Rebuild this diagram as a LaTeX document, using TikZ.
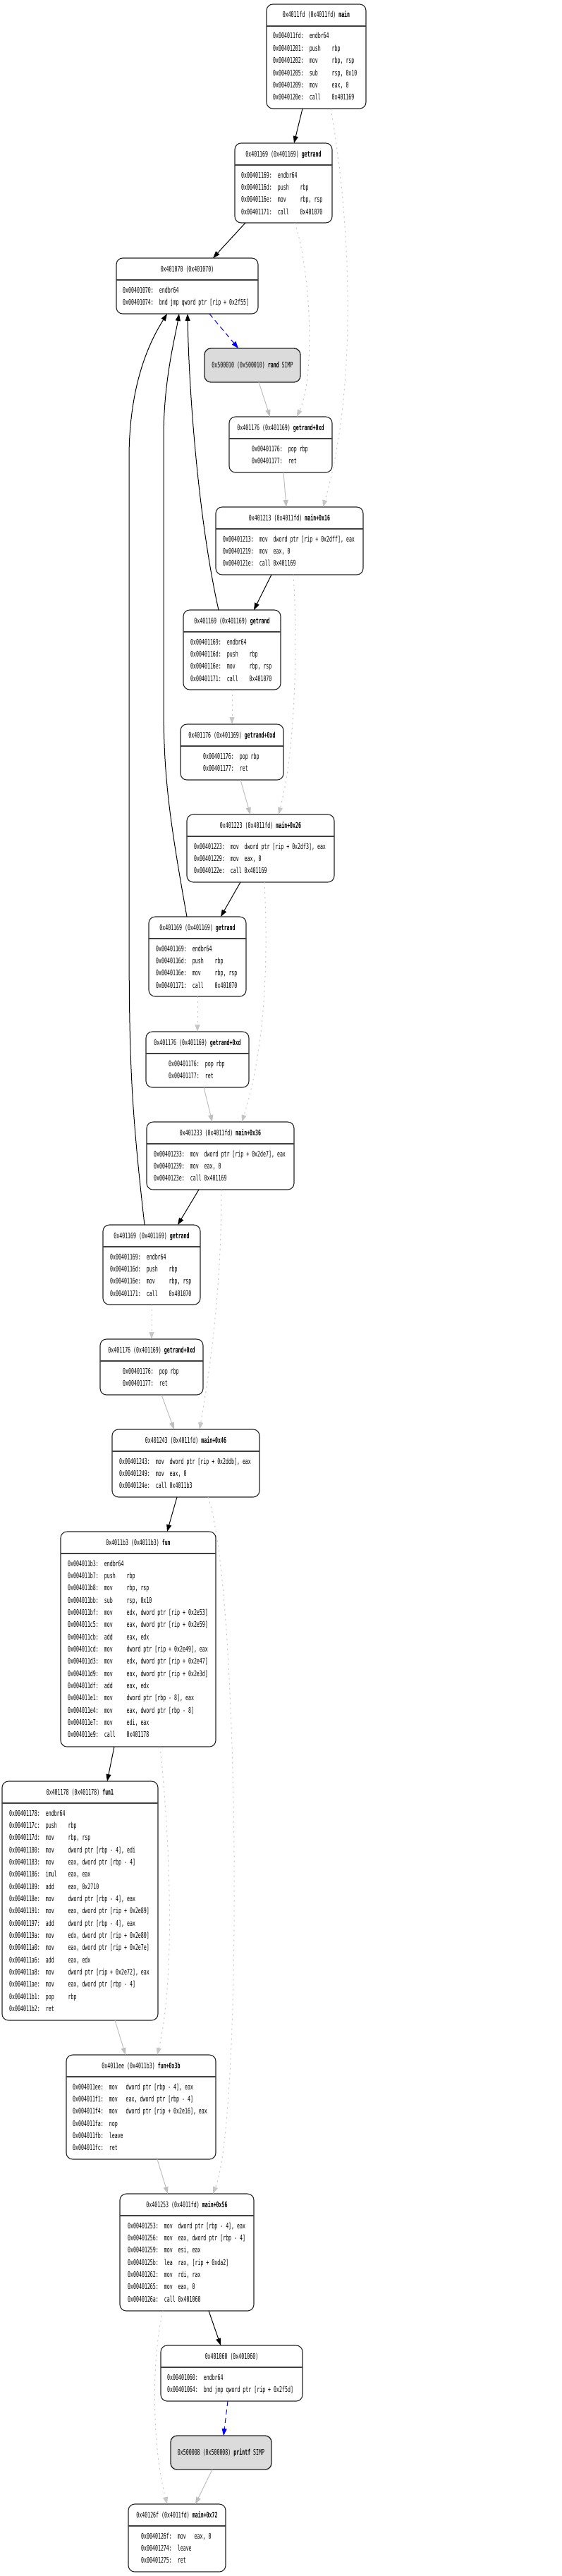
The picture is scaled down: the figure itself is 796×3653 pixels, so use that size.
\documentclass[tikz,border=0pt]{standalone}
\usepackage{fontspec}
\usetikzlibrary{arrows.meta}
\newfontfamily\cf[FakeStretch=0.6]{DejaVu Sans Mono}
\tikzset{
  blkbox/.style={draw=black!85, line width=1.1pt, rounded corners=9pt, inner sep=0pt, outer sep=0pt, fill=white},
  simpbox/.style={blkbox, fill=black!14, line width=1.3pt, font=\cf\fontsize{11}{13}\selectfont},
  sepline/.style={draw=black!75, line width=1.4pt},
  ttl/.style={anchor=base, inner sep=0pt, font=\cf\fontsize{11}{13}\selectfont},
  code/.style={anchor=base west, inner sep=0pt, font=\cf\fontsize{11}{13}\selectfont},
  callarr/.style={-{Triangle[length=10pt,width=7pt]}, line width=1pt, black},
  retarr/.style={-{Triangle[length=10pt,width=7pt]}, line width=1pt, black!25},
  fallarr/.style={retarr, black!22, dash pattern=on 2pt off 5pt},
  jmparr/.style={-{Triangle[length=10pt,width=7pt]}, line width=1pt, blue, dash pattern=on 7pt off 5pt},
}
% #1 name, #2 cx, #3 top, #4 w, #5 h, #6 title, #7 text x, #8 lines
\newcommand\blk[8]{%
  \node[blkbox, minimum width=#4pt, minimum height=#5pt] (#1) at (#2,{-(#3)-(#5)/2}) {};
  \draw[sepline] ([yshift=-31pt]#1.north west) -- ([yshift=-31pt]#1.north east);
  \node[ttl] at (#2,{-(#3)-19}) {#6};
  \foreach \t [count=\i from 0] in {#8} {\node[code] at (#7,{-(#3)-49-17.35*\i}) {\t};}
}
\begin{document}
\begin{tikzpicture}[x=1pt,y=1pt]
\path[fill=white] (0,0) rectangle (796,-3653);
\useasboundingbox (0,0) rectangle (796,-3653);

\blk{n1}{448.5}{6}{141}{148}{0x4011fd (0x4011fd) \textbf{main}}{387}{%
{0x004011fd:~~endbr64},
{0x00401201:~~push~~~~rbp},
{0x00401202:~~mov~~~~~rbp, rsp},
{0x00401205:~~sub~~~~~rsp, 0x10},
{0x00401209:~~mov~~~~~eax, 0},
{0x0040120e:~~call~~~~0x401169}}

\blk{n2}{402}{203}{138}{113}{0x401169 (0x401169) \textbf{getrand}}{342}{%
{0x00401169:~~endbr64},
{0x0040116d:~~push~~~~rbp},
{0x0040116e:~~mov~~~~~rbp, rsp},
{0x00401171:~~call~~~~0x401070}}

\blk{n3}{265.5}{366}{201}{79}{0x401070 (0x401070)}{174}{%
{0x00401070:~~endbr64},
{0x00401074:~~bnd jmp qword ptr [rip + 0x2f55]}}

\node[simpbox, minimum width=136pt, minimum height=48pt] (n4) at (358,-518) {0x500010 (0x500010) \textbf{rand} SIMP};

\blk{n5}{398}{591}{146}{79}{0x401176 (0x401169) \textbf{getrand+0xd}}{357}{%
{0x00401176:~~pop rbp},
{0x00401177:~~ret}}

\blk{n6}{410.5}{719}{209}{96}{0x401213 (0x4011fd) \textbf{main+0x16}}{316}{%
{0x00401213:~~mov~~dword ptr [rip + 0x2dff], eax},
{0x00401219:~~mov~~eax, 0},
{0x0040121e:~~call 0x401169}}

\blk{n7}{329}{865}{138}{113}{0x401169 (0x401169) \textbf{getrand}}{270}{%
{0x00401169:~~endbr64},
{0x0040116d:~~push~~~~rbp},
{0x0040116e:~~mov~~~~~rbp, rsp},
{0x00401171:~~call~~~~0x401070}}

\blk{n8}{329}{1027}{146}{79}{0x401176 (0x401169) \textbf{getrand+0xd}}{288}{%
{0x00401176:~~pop rbp},
{0x00401177:~~ret}}

\blk{n9}{369.5}{1155}{209}{96}{0x401223 (0x4011fd) \textbf{main+0x26}}{275}{%
{0x00401223:~~mov~~dword ptr [rip + 0x2df3], eax},
{0x00401229:~~mov~~eax, 0},
{0x0040122e:~~call 0x401169}}

\blk{n10}{280}{1300}{138}{113}{0x401169 (0x401169) \textbf{getrand}}{221}{%
{0x00401169:~~endbr64},
{0x0040116d:~~push~~~~rbp},
{0x0040116e:~~mov~~~~~rbp, rsp},
{0x00401171:~~call~~~~0x401070}}

\blk{n11}{280}{1463}{146}{79}{0x401176 (0x401169) \textbf{getrand+0xd}}{239}{%
{0x00401176:~~pop rbp},
{0x00401177:~~ret}}

\blk{n12}{312.5}{1591}{209}{96}{0x401233 (0x4011fd) \textbf{main+0x36}}{218}{%
{0x00401233:~~mov~~dword ptr [rip + 0x2de7], eax},
{0x00401239:~~mov~~eax, 0},
{0x0040123e:~~call 0x401169}}

\blk{n13}{215}{1737}{138}{113}{0x401169 (0x401169) \textbf{getrand}}{156}{%
{0x00401169:~~endbr64},
{0x0040116d:~~push~~~~rbp},
{0x0040116e:~~mov~~~~~rbp, rsp},
{0x00401171:~~call~~~~0x401070}}

\blk{n14}{215}{1899}{146}{79}{0x401176 (0x401169) \textbf{getrand+0xd}}{174}{%
{0x00401176:~~pop rbp},
{0x00401177:~~ret}}

\blk{n15}{263.5}{2027}{209}{96}{0x401243 (0x4011fd) \textbf{main+0x46}}{169}{%
{0x00401243:~~mov~~dword ptr [rip + 0x2ddb], eax},
{0x00401249:~~mov~~eax, 0},
{0x0040124e:~~call 0x4011b3}}

\blk{n16}{196}{2172}{220}{305}{0x4011b3 (0x4011b3) \textbf{fun}}{96}{%
{0x004011b3:~~endbr64},
{0x004011b7:~~push~~~~rbp},
{0x004011b8:~~mov~~~~~rbp, rsp},
{0x004011bb:~~sub~~~~~rsp, 0x10},
{0x004011bf:~~mov~~~~~edx, dword ptr [rip + 0x2e53]},
{0x004011c5:~~mov~~~~~eax, dword ptr [rip + 0x2e59]},
{0x004011cb:~~add~~~~~eax, edx},
{0x004011cd:~~mov~~~~~dword ptr [rip + 0x2e49], eax},
{0x004011d3:~~mov~~~~~edx, dword ptr [rip + 0x2e47]},
{0x004011d9:~~mov~~~~~eax, dword ptr [rip + 0x2e3d]},
{0x004011df:~~add~~~~~eax, edx},
{0x004011e1:~~mov~~~~~dword ptr [rbp - 8], eax},
{0x004011e4:~~mov~~~~~eax, dword ptr [rbp - 8]},
{0x004011e7:~~mov~~~~~edi, eax},
{0x004011e9:~~call~~~~0x401178}}

\blk{n17}{113.5}{2526}{221}{339}{0x401178 (0x401178) \textbf{fun1}}{13}{%
{0x00401178:~~endbr64},
{0x0040117c:~~push~~~~rbp},
{0x0040117d:~~mov~~~~~rbp, rsp},
{0x00401180:~~mov~~~~~dword ptr [rbp - 4], edi},
{0x00401183:~~mov~~~~~eax, dword ptr [rbp - 4]},
{0x00401186:~~imul~~~~eax, eax},
{0x00401189:~~add~~~~~eax, 0x2710},
{0x0040118e:~~mov~~~~~dword ptr [rbp - 4], eax},
{0x00401191:~~mov~~~~~eax, dword ptr [rip + 0x2e89]},
{0x00401197:~~add~~~~~dword ptr [rbp - 4], eax},
{0x0040119a:~~mov~~~~~edx, dword ptr [rip + 0x2e80]},
{0x004011a0:~~mov~~~~~eax, dword ptr [rip + 0x2e7e]},
{0x004011a6:~~add~~~~~eax, edx},
{0x004011a8:~~mov~~~~~dword ptr [rip + 0x2e72], eax},
{0x004011ae:~~mov~~~~~eax, dword ptr [rbp - 4]},
{0x004011b1:~~pop~~~~~rbp},
{0x004011b2:~~ret}}

\blk{n18}{200}{2914}{212}{148}{0x4011ee (0x4011b3) \textbf{fun+0x3b}}{103}{%
{0x004011ee:~~mov~~~dword ptr [rbp - 4], eax},
{0x004011f1:~~mov~~~eax, dword ptr [rbp - 4]},
{0x004011f4:~~mov~~~dword ptr [rip + 0x2e16], eax},
{0x004011fa:~~nop},
{0x004011fb:~~leave},
{0x004011fc:~~ret}}

\blk{n19}{265}{3111}{190}{166}{0x401253 (0x4011fd) \textbf{main+0x56}}{181}{%
{0x00401253:~~mov~~dword ptr [rbp - 4], eax},
{0x00401256:~~mov~~eax, dword ptr [rbp - 4]},
{0x00401259:~~mov~~esi, eax},
{0x0040125b:~~lea~~rax, [rip + 0xda2]},
{0x00401262:~~mov~~rdi, rax},
{0x00401265:~~mov~~eax, 0},
{0x0040126a:~~call 0x401060}}

\blk{n20}{328.5}{3326}{201}{79}{0x401060 (0x401060)}{237}{%
{0x00401060:~~endbr64},
{0x00401064:~~bnd jmp qword ptr [rip + 0x2f5d]}}

\node[simpbox, minimum width=143pt, minimum height=48pt] (n21) at (313.5,-3478) {0x500008 (0x500008) \textbf{printf} SIMP};

\blk{n22}{251}{3551}{138}{96}{0x40126f (0x4011fd) \textbf{main+0x72}}{200}{%
{0x0040126f:~~mov~~~eax, 0},
{0x00401274:~~leave},
{0x00401275:~~ret}}

% edges
\draw[callarr] ([xshift=-19.5pt]n1.south) -- ([xshift=15pt]n2.north);
\draw[fallarr] ([xshift=20.5pt]n1.south) .. controls (500,-330) and (505,-560) .. ([xshift=47.5pt]n6.north);
\draw[callarr] ([xshift=-54pt]n2.south) -- ([xshift=36.5pt]n3.north);
\draw[fallarr] ([xshift=16pt]n2.south) .. controls (440,-380) and (448,-530) .. ([xshift=23pt]n5.north);
\draw[jmparr] ([xshift=31.5pt]n3.south) -- ([xshift=-20pt]n4.north);
\draw[retarr] ([xshift=9pt]n4.south) -- ([xshift=-15pt]n5.north);
\draw[retarr] ([xshift=4pt]n5.south) -- ([xshift=-4.5pt]n6.north);
\draw[callarr] ([xshift=-25.5pt]n6.south) -- ([xshift=31pt]n7.north);
\draw[fallarr] ([xshift=5.5pt]n6.south) .. controls (422,-900) and (420,-1060) .. ([xshift=25.5pt]n9.north);
\draw[callarr] ([xshift=-19pt]n7.north) .. controls (282,-740) and (268,-560) .. ([xshift=0.5pt]n3.south);
\draw[callarr] ([xshift=-15pt]n10.north) .. controls (240,-1160) and (232,-1100) .. (232,-1000) -- (232,-620) .. controls (232,-540) and (248,-480) .. ([xshift=-11.5pt]n3.south);
\draw[callarr] ([xshift=-10pt]n13.north) .. controls (185,-1560) and (183,-1500) .. (183,-1300) -- (183,-650) .. controls (183,-540) and (215,-480) .. ([xshift=-28.5pt]n3.south);
\draw[fallarr] (n7.south) -- (n8.north);
\draw[retarr] ([xshift=12pt]n8.south) -- ([xshift=-14.5pt]n9.north);
\draw[callarr] ([xshift=-28.5pt]n9.south) -- ([xshift=33pt]n10.north);
\draw[fallarr] ([xshift=5.5pt]n9.south) .. controls (380,-1350) and (378,-1480) .. ([xshift=30.5pt]n12.north);
\draw[fallarr] (n10.south) -- (n11.north);
\draw[retarr] ([xshift=9pt]n11.south) -- ([xshift=-11.5pt]n12.north);
\draw[callarr] ([xshift=-30.5pt]n12.south) -- ([xshift=37pt]n13.north);
\draw[fallarr] ([xshift=1.5pt]n12.south) .. controls (314,-1820) and (300,-1930) .. ([xshift=19.5pt]n15.north);
\draw[fallarr] (n13.south) -- (n14.north);
\draw[retarr] ([xshift=14pt]n14.south) -- ([xshift=-16.5pt]n15.north);
\draw[callarr] ([xshift=-12.5pt]n15.south) -- ([xshift=41pt]n16.north);
\draw[fallarr] ([xshift=31.5pt]n15.south) .. controls (340,-2250) and (345,-3000) .. ([xshift=37pt]n19.north);
\draw[callarr] ([xshift=-34pt]n16.south) -- ([xshift=38.5pt]n17.north);
\draw[fallarr] ([xshift=31pt]n16.south) .. controls (240,-2600) and (250,-2800) .. ([xshift=23pt]n18.north);
\draw[retarr] ([xshift=49.5pt]n17.south) -- ([xshift=-22pt]n18.north);
\draw[retarr] ([xshift=23pt]n18.south) -- ([xshift=-27pt]n19.north);
\draw[callarr] ([xshift=31pt]n19.south) -- ([xshift=-15.5pt]n20.north);
\draw[fallarr] ([xshift=-34pt]n19.south) .. controls (214,-3350) and (216,-3470) .. ([xshift=-14pt]n22.north);
\draw[jmparr] ([xshift=-5.5pt]n20.south) -- ([xshift=3.5pt]n21.north);
\draw[retarr] ([xshift=-12.5pt]n21.south) -- ([xshift=26pt]n22.north);
\end{tikzpicture}
\end{document}
